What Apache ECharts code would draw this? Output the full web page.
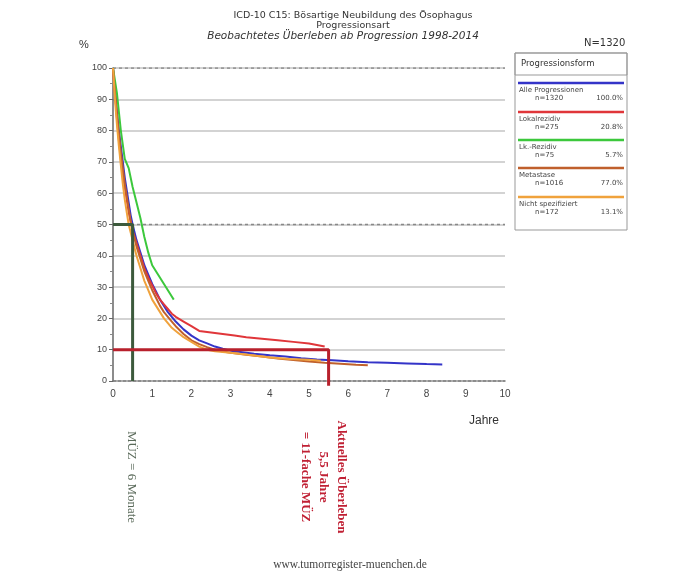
<!DOCTYPE html>
<html><head><meta charset="utf-8">
<script src="https://cdn.jsdelivr.net/npm/echarts@6/dist/echarts.min.js"></script>
<style>html,body{margin:0;padding:0;background:#fff}#c{width:677px;height:583px}</style>
</head><body><div id="c"></div>
<script>
// ---- data ----
const seriesNames = ['Alle Progressionen','Lokalrezidiv','Lk.-Rezidiv','Metastase','Nicht spezifiziert'];
const seriesCounts = ['n=1320','n=275','n=75','n=1016','n=172'];
const seriesPercents = ['100.0%','20.8%','5.7%','77.0%','13.1%'];
const seriesColors = ['#3434c8','#e0363a','#3cc83c','#c0602c','#f0a23c'];

const alle = [[0,100],[0.05,93],[0.1,86],[0.15,80],[0.2,75],[0.25,70],[0.3,65],[0.35,61],[0.4,57],[0.45,53],[0.5,50],[0.6,45],[0.7,41],[0.8,37],[0.9,34],[1.0,31],[1.1,28.5],[1.2,26],[1.3,24],[1.4,22],[1.5,20.5],[1.6,19],[1.8,16.5],[2.0,14.5],[2.2,13],[2.4,12],[2.6,11],[2.8,10.3],[3.0,9.7],[3.3,9.2],[3.6,8.7],[4.0,8.2],[4.4,7.8],[4.8,7.3],[5.2,6.9],[5.6,6.6],[6.0,6.3],[6.5,6.0],[7.0,5.8],[7.5,5.6],[8.0,5.4],[8.4,5.3]];
const lokal = [[0,100],[0.05,92],[0.1,84],[0.15,77],[0.2,71],[0.25,66],[0.3,62],[0.35,58],[0.4,54],[0.45,51],[0.5,48],[0.6,44],[0.7,40],[0.8,36],[0.9,33],[1.0,30.5],[1.1,28],[1.2,26],[1.3,24.5],[1.4,23],[1.5,21.5],[1.6,20.5],[1.8,19],[2.0,17.5],[2.2,16],[2.5,15.5],[2.8,15],[3.1,14.5],[3.4,14],[3.8,13.5],[4.2,13],[4.6,12.5],[5.0,12],[5.2,11.5],[5.4,11]];
const lkRez = [[0,100],[0.1,92],[0.2,80],[0.3,71],[0.4,68],[0.5,62],[0.6,57],[0.7,52],[0.8,46],[0.9,41],[1.0,37],[1.1,35],[1.2,33],[1.3,31],[1.4,29],[1.5,27],[1.55,26]];
const metast = [[0,100],[0.05,92],[0.1,85],[0.15,79],[0.2,73],[0.25,68],[0.3,63],[0.35,59],[0.4,55],[0.45,51],[0.5,48],[0.6,43],[0.7,39],[0.8,35],[0.9,32],[1.0,29],[1.1,26.5],[1.2,24],[1.3,22],[1.4,20.5],[1.5,19],[1.6,17.5],[1.8,15],[2.0,13],[2.2,11.8],[2.4,10.8],[2.6,10],[2.8,9.4],[3.0,9],[3.4,8.4],[3.8,7.8],[4.2,7.2],[4.6,6.7],[5.0,6.2],[5.4,5.8],[5.8,5.5],[6.2,5.2],[6.5,5.0]];
const nichtSpez = [[0,100],[0.05,90],[0.1,82],[0.15,75],[0.2,69],[0.25,63],[0.3,58],[0.35,54],[0.4,50],[0.5,45],[0.6,40],[0.7,36],[0.8,32],[0.9,29],[1.0,26],[1.1,24],[1.2,22],[1.3,20],[1.4,18.5],[1.5,17],[1.6,16],[1.8,14],[2.0,12.5],[2.2,11],[2.4,10],[2.6,9.5],[3.0,9],[3.5,8.3],[4.0,7.5],[4.5,7.0],[5.0,6.8],[5.3,6.5]];
const curves = [alle, lokal, lkRez, metast, nichtSpez];

const medianLine = [[0,50],[0.5,50],[0.5,0]];
const currentLine = [[0,10],[5.5,10],[5.5,-1.5]];

const xTicks = [0,1,2,3,4,5,6,7,8,9,10];
const yTicks = [0,10,20,30,40,50,60,70,80,90,100];

// ---- chart ----
const chart = echarts.init(document.getElementById('c'), null, {renderer:'canvas'});
const font = 'Liberation Sans, Arial, sans-serif';
const wide = 'DejaVu Sans, Verdana, sans-serif';
const serif = 'Liberation Serif, Times New Roman, serif';

const series = curves.map((d,i)=>({
  type:'line', name:seriesNames[i], data:d, showSymbol:false,
  lineStyle:{color:seriesColors[i], width:2}, z:3+i
}));
series.unshift({type:'line', data:[[0,100],[10,100]], showSymbol:false, silent:true,
  lineStyle:{color:'#888', width:1.5, type:[3,3]}, z:1});
series.unshift({type:'line', data:[[0,50],[10,50]], showSymbol:false, silent:true,
  lineStyle:{color:'#888', width:1.5, type:[3,3]}, z:1});
series.push({type:'line', data:medianLine, showSymbol:false, silent:true,
  lineStyle:{color:'#3c5a3c', width:3}, z:10});
series.push({type:'line', data:currentLine, showSymbol:false, silent:true, clip:false,
  lineStyle:{color:'#b8202c', width:3}, z:10});

const legendG = [];
const lx = 515, ly = 53, lw = 112;
legendG.push({type:'rect', shape:{x:lx,y:ly,width:lw,height:177}, style:{fill:'#fff',stroke:'#999',lineWidth:1}});
legendG.push({type:'rect', shape:{x:lx,y:ly,width:lw,height:22}, style:{fill:'none',stroke:'#999',lineWidth:1}});
legendG.push({type:'text', left:lx+6, top:ly+6, style:{text:'Progressionsform', fontSize:8.5, fill:'#333', fontFamily:wide}});
const itemY = [83,112,140,168,197];
seriesNames.forEach((n,i)=>{
  const y = itemY[i];
  legendG.push({type:'line', shape:{x1:lx+3,y1:y,x2:lx+lw-3,y2:y}, style:{stroke:seriesColors[i], lineWidth:2.5}});
  legendG.push({type:'text', x:lx+4, y:y+4, style:{text:n, fontSize:7, fill:'#444', fontFamily:wide}});
  legendG.push({type:'text', x:lx+20, y:y+12, style:{text:seriesCounts[i], fontSize:7, fill:'#444', fontFamily:wide}});
  legendG.push({type:'text', x:lx+lw-4, y:y+12, style:{text:seriesPercents[i], fontSize:7, fill:'#444', fontFamily:wide, align:'right'}});
});

const option = {
  animation:false,
  backgroundColor:'#fff',
  grid:{left:113, right:172, top:68, bottom:202, containLabel:false},
  xAxis:{type:'value', min:0, max:10, interval:1,
    axisLine:{show:true, onZero:false, lineStyle:{color:'#777', width:1.5, type:[3,2]}},
    axisTick:{show:false}, minorTick:{show:false},
    axisLabel:{color:'#444', fontSize:10, fontFamily:font, margin:8},
    splitLine:{show:false}},
  yAxis:{type:'value', min:0, max:100, interval:10,
    axisLine:{show:true, lineStyle:{color:'#666', width:1.5}},
    axisTick:{show:true, inside:false, length:4, lineStyle:{color:'#666'}},
    minorTick:{show:true, splitNumber:2, length:3, lineStyle:{color:'#888'}},
    axisLabel:{color:'#444', fontSize:9, fontFamily:font, margin:6},
    splitLine:{show:true, lineStyle:{color:'#c4c4c4', width:1.5}}},
  series: series,
  graphic:[
    {type:'text', x:353, y:16, style:{text:'ICD-10 C15: Bösartige Neubildung des Ösophagus', fontSize:9.5, fill:'#333', fontFamily:wide, align:'center', verticalAlign:'middle'}},
    {type:'text', x:353, y:25.5, style:{text:'Progressionsart', fontSize:9.5, fill:'#333', fontFamily:wide, align:'center', verticalAlign:'middle'}},
    {type:'text', x:343, y:36, style:{text:'Beobachtetes Überleben ab Progression 1998-2014', fontSize:10.5, fontStyle:'italic', fill:'#333', fontFamily:wide, align:'center', verticalAlign:'middle'}},
    {type:'text', left:79, top:39, style:{text:'%', fontSize:11, fill:'#333', fontFamily:font}},
    {type:'text', left:584, top:38, style:{text:'N=1320', fontSize:10, fill:'#333', fontFamily:wide}},
    {type:'text', left:469, top:415, style:{text:'Jahre', fontSize:12, fill:'#333', fontFamily:font}},
    {type:'text', x:131, y:477, rotation:-Math.PI/2, style:{text:'MÜZ = 6 Monate', fontSize:13, fill:'#5a6a5a', fontFamily:serif, align:'center', verticalAlign:'middle'}},
    {type:'text', x:323, y:477, rotation:-Math.PI/2, style:{text:'Aktuelles Überleben\n5,5 Jahre\n= 11-fache MÜZ', fontSize:13, fontWeight:'bold', lineHeight:18, fill:'#c02034', fontFamily:serif, align:'center', verticalAlign:'middle'}},
    {type:'text', x:350, y:565, style:{text:'www.tumorregister-muenchen.de', fontSize:11.5, fill:'#444', fontFamily:serif, align:'center', verticalAlign:'middle'}}
  ].concat(legendG)
};
chart.setOption(option);
</script></body></html>
